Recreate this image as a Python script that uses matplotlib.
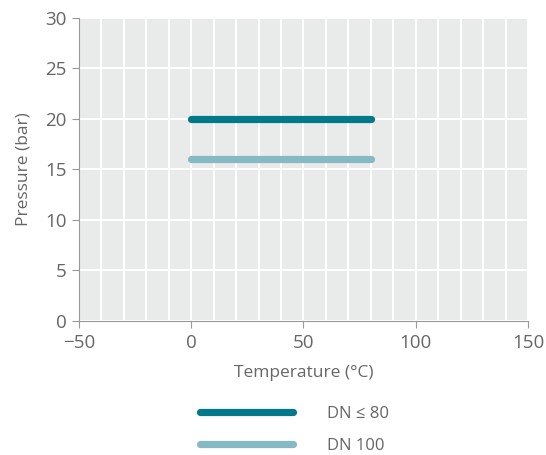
import matplotlib
matplotlib.use("Agg")
from matplotlib import pyplot as plt
import numpy as np

# Pressure/temperature ratings
series_names = ["DN \u2264 80", "DN 100"]
temps = [[0, 80], [0, 80]]
pressures = [[20, 20], [16, 16]]
colors = ["#007a8a", "#85b9c4"]

x_ticks = [-50, 0, 50, 100, 150]
y_ticks = [0, 5, 10, 15, 20, 25, 30]

plt.rcParams['font.family'] = ['Open Sans', 'DejaVu Sans']
plt.rcParams['lines.solid_capstyle'] = 'round'
text_col = "#666666"

fig = plt.figure(figsize=(5.46, 4.55), dpi=100)
ax = fig.add_axes([0.1447, 0.2945, 0.8223, 0.666])
ax.set_facecolor("#e9eaea")

for t, p, c, name in zip(temps, pressures, colors, series_names):
    ax.plot(t, p, color=c, lw=5.2, label=name, zorder=3)

ax.set_xlim(-50, 150)
ax.set_ylim(0, 30)
ax.set_xticks(x_ticks)
ax.set_xticks(np.arange(-50, 151, 10), minor=True)
ax.set_yticks(y_ticks)
ax.grid(True, which='both', axis='x', color='white', lw=1.5)
ax.grid(True, which='major', axis='y', color='white', lw=1.5)
ax.set_axisbelow(True)
ax.tick_params(which='minor', length=0)
ax.tick_params(which='major', length=5, color='#999999', labelcolor=text_col,
               labelsize=13.5, pad=4)
for s in ['top', 'right']:
    ax.spines[s].set_visible(False)
for s in ['left', 'bottom']:
    ax.spines[s].set_color('#999999')

ax.set_xlabel("Temperature (°C)", color=text_col, fontsize=12.5, labelpad=10)
ax.set_ylabel("Pressure (bar)", color=text_col, fontsize=12.5, labelpad=10)

leg = fig.legend(loc='upper left', bbox_to_anchor=(0.366, 0.108), frameon=False,
                 fontsize=12, handlelength=5.6, handletextpad=2.0, labelspacing=0.95,
                 borderpad=0, borderaxespad=0)
for txt in leg.get_texts():
    txt.set_color(text_col)

fig.savefig("out.png", dpi=100)
